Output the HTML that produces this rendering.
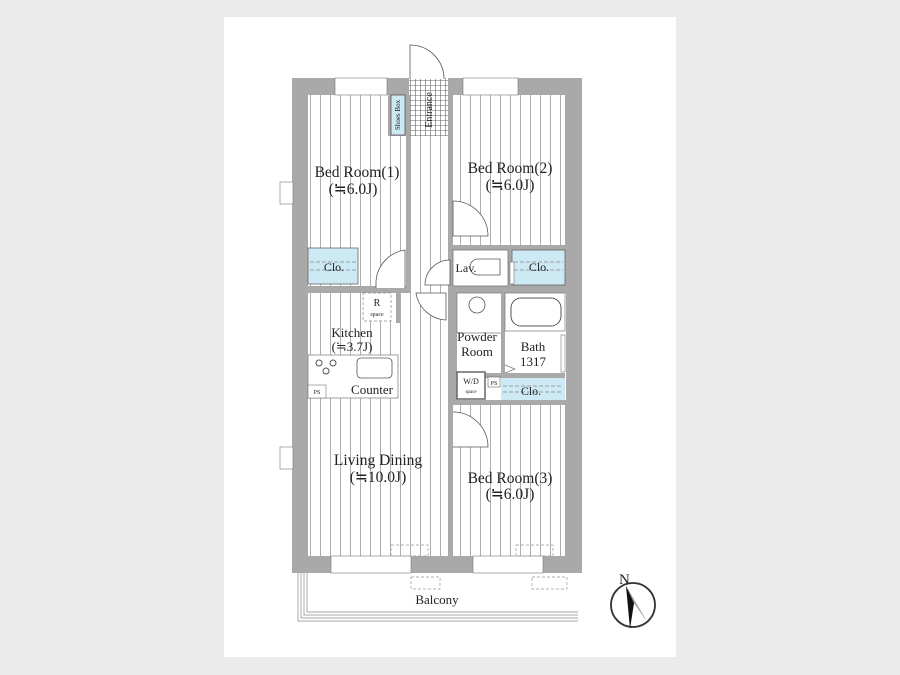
<!DOCTYPE html>
<html><head><meta charset="utf-8"><style>
html,body{margin:0;padding:0;background:#ebebeb;}
svg{display:block}
text{font-family:"Liberation Serif",serif;fill:#222;}
</style></head><body>
<svg width="900" height="675" viewBox="0 0 900 675" xmlns="http://www.w3.org/2000/svg">
<defs>
<pattern id="fl" x="0" y="0" width="10" height="10" patternUnits="userSpaceOnUse">
<rect width="10" height="10" fill="#fff"/><line x1="0.5" y1="0" x2="0.5" y2="10" stroke="#9a9a9a" stroke-width="0.8"/>
</pattern>
<pattern id="tile" width="5" height="5" patternUnits="userSpaceOnUse">
<rect width="5" height="5" fill="#fff"/><path d="M0 0.5H5M0.5 0V5" stroke="#666" stroke-width="0.6"/>
</pattern>
</defs>
<rect x="0" y="0" width="900" height="675" fill="#ebebeb"/>
<rect x="224" y="17" width="452" height="640" fill="#fff"/>

<rect x="292" y="78" width="290" height="495" fill="#a9a9a9"/>
<rect x="308" y="95" width="80" height="193" fill="url(#fl)"/>
<rect x="388" y="136" width="20" height="152" fill="url(#fl)"/>
<rect x="410" y="136" width="38" height="420" fill="url(#fl)"/>
<rect x="453" y="95" width="112" height="150" fill="url(#fl)"/>
<rect x="308" y="293" width="102" height="263" fill="url(#fl)"/>
<rect x="453" y="405" width="112" height="151" fill="url(#fl)"/>
<rect x="409" y="78" width="39" height="58" fill="url(#tile)"/>
<rect x="391" y="95" width="14" height="40" fill="#cde9f3" stroke="#555" stroke-width="0.8"/>
<rect x="406" y="95" width="4" height="195" fill="#a9a9a9"/>
<rect x="448" y="78" width="5" height="327" fill="#a9a9a9"/>
<rect x="335" y="78" width="52" height="17" fill="#fff" stroke="#777" stroke-width="0.6"/>
<rect x="463" y="78" width="55" height="17" fill="#fff" stroke="#777" stroke-width="0.6"/>
<path d="M410 79 V45 A34 34 0 0 1 444 79" fill="#fff" stroke="#555" stroke-width="0.8"/>
<rect x="308" y="286" width="100" height="7" fill="#a9a9a9"/>
<rect x="453" y="245" width="113" height="5" fill="#a9a9a9"/>
<rect x="453" y="286" width="113" height="7" fill="#a9a9a9"/>
<rect x="308" y="248" width="50" height="36" fill="#cde9f3" stroke="#666" stroke-width="0.8"/>
<path d="M310 262H356M310 270H356" stroke="#888" stroke-dasharray="4 2" stroke-width="0.8"/>
<rect x="512" y="250" width="53" height="35" fill="#cde9f3" stroke="#666" stroke-width="0.8"/>
<path d="M514 262H563M514 270H563" stroke="#888" stroke-dasharray="4 2" stroke-width="0.8"/>
<rect x="453" y="250" width="55" height="36" fill="#fff" stroke="#777" stroke-width="0.8"/>
<path d="M478 259 H500 V275 H478 A8 8 0 0 1 478 259Z" fill="#fff" stroke="#555" stroke-width="0.8"/>
<rect x="510" y="262" width="4" height="22" fill="#fff" stroke="#777" stroke-width="0.6"/>
<path d="M376 288 V281 A34 34 0 0 1 405 250 V288" fill="#fff" stroke="#555" stroke-width="0.8"/>
<path d="M453 201 A35 35 0 0 1 488 236 H453Z" fill="#fff" stroke="#555" stroke-width="0.8"/>
<path d="M425 285 A25 25 0 0 1 450 260 V285Z" fill="#fff" stroke="#555" stroke-width="0.8"/>
<path d="M416 293 A32 32 0 0 0 446 320 V293Z" fill="#fff" stroke="#555" stroke-width="0.8"/>
<rect x="453" y="293" width="113" height="112" fill="#fff"/>
<rect x="453" y="293" width="4" height="112" fill="#a9a9a9"/>
<rect x="457" y="293" width="45" height="40" fill="#fff" stroke="#777" stroke-width="0.7"/>
<circle cx="477" cy="305" r="8" fill="#fff" stroke="#555" stroke-width="0.8"/>
<rect x="501" y="293" width="4" height="80" fill="#a9a9a9"/>
<rect x="505" y="293" width="60" height="38" fill="#fff" stroke="#777" stroke-width="0.7"/>
<rect x="511" y="298" width="50" height="28" rx="10" fill="#fff" stroke="#555" stroke-width="1"/>
<rect x="561" y="335" width="4" height="37" fill="#fff" stroke="#777" stroke-width="0.6"/>
<path d="M505 365 L515 369 L505 373" fill="none" stroke="#777" stroke-width="0.7"/>
<rect x="453" y="373" width="112" height="5" fill="#a9a9a9"/>
<rect x="457" y="372" width="28" height="27" fill="#fff" stroke="#666" stroke-width="1.5"/>
<rect x="488" y="377" width="12" height="10" fill="#fff" stroke="#666" stroke-width="0.6"/>
<rect x="501" y="378" width="64" height="22" fill="#cde9f3"/>
<path d="M503 386H563M503 392H563" stroke="#888" stroke-dasharray="4 2" stroke-width="0.8"/>
<rect x="453" y="400" width="113" height="5" fill="#a9a9a9"/>
<path d="M453 412 A35 35 0 0 1 488 447 H453" fill="#fff" stroke="#555" stroke-width="0.8"/>
<rect x="363" y="293" width="28" height="28" fill="#fff" stroke="#888" stroke-dasharray="3 2" stroke-width="0.7"/>
<rect x="396" y="293" width="4" height="30" fill="#a9a9a9"/>
<rect x="308" y="355" width="90" height="43" fill="#fff" stroke="#777" stroke-width="0.7"/>
<rect x="308" y="385" width="18" height="13" fill="#fff" stroke="#777" stroke-width="0.6"/>
<circle cx="319" cy="363" r="3" fill="none" stroke="#555"/><circle cx="333" cy="363" r="3" fill="none" stroke="#555"/><circle cx="326" cy="371" r="3" fill="none" stroke="#555"/>
<rect x="357" y="358" width="35" height="20" rx="4" fill="#fff" stroke="#555" stroke-width="0.8"/>
<rect x="280" y="182" width="13" height="22" fill="#fff" stroke="#777" stroke-width="0.6"/>
<rect x="280" y="447" width="13" height="22" fill="#fff" stroke="#777" stroke-width="0.6"/>
<rect x="331" y="556" width="80" height="17" fill="#fff" stroke="#777" stroke-width="0.6"/>
<rect x="473" y="556" width="70" height="17" fill="#fff" stroke="#777" stroke-width="0.6"/>
<rect x="391" y="545" width="37" height="11" fill="none" stroke="#999" stroke-dasharray="3 2" stroke-width="0.7"/>
<rect x="516" y="545" width="37" height="11" fill="none" stroke="#999" stroke-dasharray="3 2" stroke-width="0.7"/>
<path d="M298 573V621H578M301 573V618H578M304 573V615H578M307 573V612H578" fill="none" stroke="#888" stroke-width="0.7"/>
<rect x="411" y="577" width="29" height="12" fill="none" stroke="#999" stroke-dasharray="3 2" stroke-width="0.7"/>
<rect x="532" y="577" width="35" height="12" fill="none" stroke="#999" stroke-dasharray="3 2" stroke-width="0.7"/>
<circle cx="633" cy="605" r="22" fill="#fff" stroke="#333" stroke-width="1.8"/>
<path d="M626 586 L646 620 L634 603 L630 629Z" fill="#111"/>
<path d="M626 586 L646 620 L634 603Z" fill="#aaa"/>
<text x="619" y="584" font-family="Liberation Sans" font-size="15">N</text>
<g font-size="15.5" text-anchor="middle">
<text x="357" y="177">Bed Room(1)</text><text x="353" y="194">(≒6.0J)</text>
<text x="510" y="173">Bed Room(2)</text><text x="510" y="190">(≒6.0J)</text>
<text x="378" y="465">Living Dining</text><text x="378" y="482">(≒10.0J)</text>
<text x="510" y="483">Bed Room(3)</text><text x="510" y="499">(≒6.0J)</text>
</g>
<g font-size="13" text-anchor="middle">
<text x="352" y="337">Kitchen</text><text x="352" y="351">(≒3.7J)</text>
<text x="477" y="341">Powder</text><text x="477" y="356">Room</text>
<text x="533" y="351">Bath</text><text x="533" y="366">1317</text>
<text x="372" y="394">Counter</text>
<text x="466" y="272" font-size="12">Lav.</text>
<text x="334" y="271" font-size="12">Clo.</text>
<text x="539" y="271" font-size="12">Clo.</text>
<text x="531" y="395" font-size="12">Clo.</text>
<text x="437" y="604">Balcony</text>
<text x="377" y="306" font-size="10">R</text>
<text x="377" y="316" font-size="6">space</text>
<text x="471" y="384" font-size="8">W/D</text>
<text x="471" y="393" font-size="5">space</text>
<text x="317" y="394" font-size="6">PS</text>
<text x="494" y="385" font-size="6">PS</text>
</g>
<text font-size="7" transform="translate(400,115) rotate(-90)" text-anchor="middle">Shoes Box</text>
<text font-size="10" transform="translate(432,110) rotate(-90)" text-anchor="middle">Entrance</text>
</svg>
</body></html>
